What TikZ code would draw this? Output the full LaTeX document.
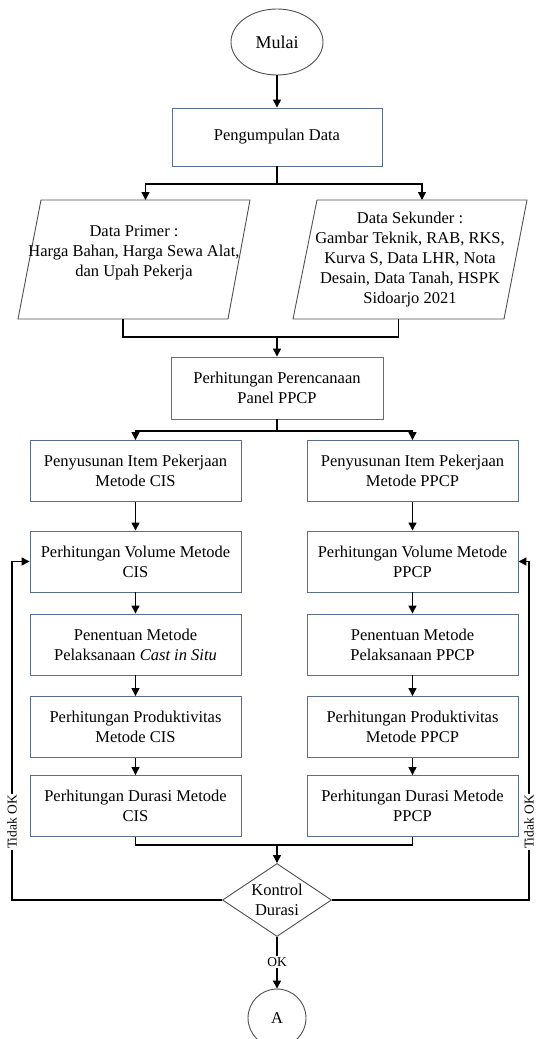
\documentclass[tikz,border=0pt]{standalone}
\usepackage{fontspec}
\setmainfont{Liberation Serif}
\usetikzlibrary{arrows.meta,shapes.geometric,calc}
\definecolor{boxc}{HTML}{5A6E8E}
\definecolor{shpc}{HTML}{505050}
\begin{document}
\begin{tikzpicture}[x=1pt,y=-1pt,
 every node/.style={font=\fontsize{16.5}{20}\selectfont, align=center, inner sep=0pt},
 procbox/.style={draw=boxc, line width=0.9pt, minimum width=211pt, minimum height=61pt},
 conn/.style={line width=1.3pt, black},
 arr/.style={conn, -{Triangle[length=8pt,width=8pt]}},
 lbl/.style={font=\fontsize{13.5}{14}\selectfont, fill=white, inner sep=1.5pt},
 shp/.style={draw=shpc, line width=0.9pt}
]
\useasboundingbox (0,0) rectangle (536,1039);
\clip (0,0) rectangle (536,1039);

% start
\node[shp, ellipse, minimum width=92pt, minimum height=66pt, font=\fontsize{18}{20}\selectfont] (mulai) at (277,42) {Mulai};
\node[procbox, minimum width=210pt, minimum height=58pt] (kumpul) at (277,137) {Pengumpulan Data};
\draw[arr] (mulai.south) -- (kumpul.north);

% parallelograms
\draw[shp] (41,200) -- (250,200) -- (228,319) -- (18,319) -- cycle;
\coordinate (pLt) at (145.5,200);
\coordinate (pLb) at (123,319);
\node (pL) at (134,253) {Data Primer :\\Harga Bahan, Harga Sewa Alat,\\dan Upah Pekerja};

\draw[shp] (317,200) -- (527,200) -- (504,319) -- (293,319) -- cycle;
\coordinate (pRt) at (422,200);
\coordinate (pRb) at (398.5,319);
\node (pR) at (410,260) {Data Sekunder :\\Gambar Teknik, RAB, RKS,\\Kurva S, Data LHR, Nota\\Desain, Data Tanah, HSPK\\Sidoarjo 2021};

\coordinate (s1) at (277,184);
\draw[conn] (kumpul.south) -- (s1);
\draw[arr] (s1) -| (pLt);
\draw[arr] (s1) -| (pRt);

% planning
\node[procbox, minimum width=212pt, minimum height=62pt] (renc) at (277,388) {Perhitungan Perencanaan\\Panel PPCP};
\coordinate (m1) at (277,337);
\draw[conn] (pLb) |- (m1);
\draw[conn] (pRb) |- (m1);
\draw[arr] (m1) -- (renc.north);

% columns
\node[procbox] (L1) at (135.5,471) {Penyusunan Item Pekerjaan\\Metode CIS};
\node[procbox] (L2) at (135.5,561.5) {Perhitungan Volume Metode\\CIS};
\node[procbox] (L3) at (135.5,644.5) {Penentuan Metode\\Pelaksanaan \textit{Cast in Situ}};
\node[procbox] (L4) at (135.5,727) {Perhitungan Produktivitas\\Metode CIS};
\node[procbox] (L5) at (135.5,806) {Perhitungan Durasi Metode\\CIS};

\node[procbox] (R1) at (412.5,471) {Penyusunan Item Pekerjaan\\Metode PPCP};
\node[procbox] (R2) at (412.5,561.5) {Perhitungan Volume Metode\\PPCP};
\node[procbox] (R3) at (412.5,644.5) {Penentuan Metode\\Pelaksanaan PPCP};
\node[procbox] (R4) at (412.5,727) {Perhitungan Produktivitas\\Metode PPCP};
\node[procbox] (R5) at (412.5,806) {Perhitungan Durasi Metode\\PPCP};

\coordinate (s2) at (277,431);
\draw[conn] (renc.south) -- (s2);
\draw[arr] (s2) -| (L1.north);
\draw[arr] (s2) -| (R1.north);

\draw[arr] (L1) -- (L2);
\draw[arr] (L2) -- (L3);
\draw[arr] (L3) -- (L4);
\draw[arr] (L4) -- (L5);
\draw[arr] (R1) -- (R2);
\draw[arr] (R2) -- (R3);
\draw[arr] (R3) -- (R4);
\draw[arr] (R4) -- (R5);

% decision
\node[shp, diamond, aspect=1.5, minimum width=109pt, minimum height=73pt] (kd) at (277,900) {Kontrol\\Durasi};
\coordinate (m2) at (277,845);
\draw[conn] (L5.south) |- (m2);
\draw[conn] (R5.south) |- (m2);
\draw[arr] (m2) -- (kd.north);

% loops
\coordinate (tl) at (12,700);
\coordinate (tr) at (529,700);
\draw[arr] (kd.west) -| (tl) |- (L2.west);
\draw[arr] (kd.east) -| (tr) |- (R2.east);
\node[lbl, rotate=90] (tL) at (12,822) {Tidak OK};
\node[lbl, rotate=90, inner sep=1pt] (tR) at (529,822) {Tidak OK};

% end
\node[lbl] (ok) at (277,962) {OK};
\node[shp, circle, minimum size=58pt] (A) at (277,1018) {A};
\draw[conn] (kd.south) -- (ok.north);
\draw[arr] (ok.south) -- (A.north);
\end{tikzpicture}
\end{document}
